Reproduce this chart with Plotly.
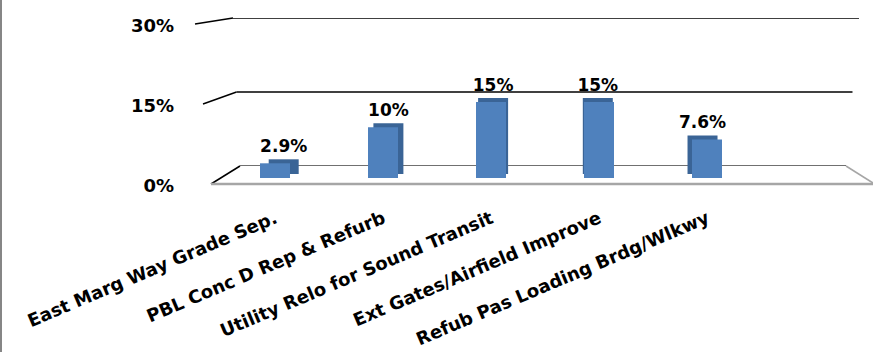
import plotly.graph_objects as go

# ---------------- data ----------------
categories = [
    "East Marg Way Grade Sep.",
    "PBL Conc D Rep & Refurb",
    "Utility Relo for Sound Transit",
    "Ext Gates/Airfield Improve",
    "Refub Pas Loading Brdg/Wlkwy",
]
values = [2.9, 10, 15, 15, 7.6]
data_labels = ["2.9%", "10%", "15%", "15%", "7.6%"]
tick_values = [0, 15, 30]
tick_labels = ["0%", "15%", "30%"]

# ---------------- geometry / style (pixels of the 873x352 page) ----------------
W, H = 873, 352
AX_MAX = 30


def px(x):
    return x / W


def py(y):
    return 1 - y / H


FONT = "DejaVu Sans"
FRONT_COLOR = "#4F81BD"
SIDE_COLOR = "#3A6496"

SLOT_L, SLOT_R, N_SLOTS = 221, 869, 6          # category slots (last one empty)
BAR_Y0, BAR_YTOP = 178, 25.9                    # bar scale 0..30
FRONT_Y0, FRONT_YTOP = 184, 24                  # front edge scale 0..30
LABEL_Y0, LABEL_YTOP = 186, 26                  # value-axis label scale 0..30
BACK_Y0, BACK_YTOP = 166, 18                    # back wall scale 0..30

slot = (SLOT_R - SLOT_L) / N_SLOTS
bar_w = 30 / slot
depth_val = 4 * AX_MAX / (BAR_Y0 - BAR_YTOP)
centers = [SLOT_L + slot * (i + 0.5) for i in range(len(values))]
side_offsets = [-bar_w / 2 + (560 - c) * 0.0305 / slot for c in centers]


def front_y(v):
    return FRONT_Y0 - v * (FRONT_Y0 - FRONT_YTOP) / AX_MAX


def back_y(v):
    return BACK_Y0 - v * (BACK_Y0 - BACK_YTOP) / AX_MAX


def front_x(v):
    return 211 - 0.533 * v


def back_left(v):
    return 240 - 0.233 * v


def back_right(v):
    return 846 + 0.433 * v


fig = go.Figure()

# depth (side + top faces) of the 3-D columns
fig.add_trace(go.Bar(
    x=categories, y=values, base=depth_val, width=bar_w, offset=side_offsets,
    marker=dict(color=SIDE_COLOR, line=dict(width=0)),
    text=data_labels, textposition="outside", constraintext="none",
    textfont=dict(family=FONT, size=17, color="#000000", weight="bold"),
    cliponaxis=False, hoverinfo="skip", showlegend=False,
))
# front faces
fig.add_trace(go.Bar(
    x=categories, y=values, width=bar_w, offset=-bar_w / 2,
    marker=dict(color=FRONT_COLOR, line=dict(width=0)),
    hoverinfo="skip", showlegend=False,
))
# helper traces so the wall and front-scale axes exist
fig.add_trace(go.Scatter(x=tick_values, y=tick_values, xaxis="x2", yaxis="y2",
                         mode="none", hoverinfo="skip", showlegend=False))
fig.add_trace(go.Scatter(x=tick_values, y=tick_values, xaxis="x3", yaxis="y3",
                         mode="none", hoverinfo="skip", showlegend=False))

shapes = []
for v in tick_values:
    col = "#000000" if v else "#404040"
    shapes.append(dict(type="line", xref="paper", yref="y2",
                       x0=px(back_left(v)), x1=px(back_right(v)), y0=v, y1=v,
                       line=dict(color=col, width=1.5), layer="below"))
    shapes.append(dict(type="line", xref="paper", yref="paper",
                       x0=px(front_x(v)), y0=py(front_y(v)),
                       x1=px(back_left(v)), y1=py(back_y(v)),
                       line=dict(color="#000000", width=1.5), layer="below"))
# floor front edge and right edge
shapes.append(dict(type="line", xref="paper", yref="paper",
                   x0=px(front_x(0)), x1=1, y0=py(front_y(0)), y1=py(front_y(0)),
                   line=dict(color="#A6A6A6", width=2.5), layer="below"))
shapes.append(dict(type="line", xref="paper", yref="paper",
                   x0=px(back_right(0)), y0=py(back_y(0)), x1=1, y1=py(front_y(0) - 1),
                   line=dict(color="#A6A6A6", width=1.5), layer="below"))
# chart border (left)
shapes.append(dict(type="line", xref="paper", yref="paper",
                   x0=px(1), x1=px(1), y0=0, y1=1,
                   line=dict(color="#868686", width=2), layer="above"))

fig.update_layout(
    width=W, height=H,
    margin=dict(l=0, r=0, t=0, b=0, pad=0, autoexpand=False),
    paper_bgcolor="#FFFFFF", plot_bgcolor="rgba(0,0,0,0)",
    barmode="overlay",
    showlegend=False,
    shapes=shapes,
    xaxis=dict(domain=[px(SLOT_L), px(SLOT_R)], range=[-0.5, N_SLOTS - 0.5],
               type="category", anchor="y", showgrid=False, zeroline=False,
               showline=False, ticks="", tickangle=-23, ticklabelstandoff=26,
               automargin=False,
               tickfont=dict(family=FONT, size=18, color="#000000", weight="bold"),
               fixedrange=True),
    yaxis=dict(domain=[py(BAR_Y0), py(BAR_YTOP)], range=[0, AX_MAX], visible=False,
               anchor="x", fixedrange=True, automargin=False),
    xaxis2=dict(domain=[0, 1], range=[0, 1], visible=False, anchor="y2", automargin=False),
    yaxis2=dict(domain=[py(BACK_Y0), py(BACK_YTOP)], range=[0, AX_MAX],
                visible=False, anchor="x2", automargin=False),
    xaxis3=dict(domain=[px(175), px(176)], range=[0, 1], visible=False, anchor="y3",
                automargin=False),
    yaxis3=dict(domain=[py(LABEL_Y0), py(LABEL_YTOP)], range=[0, AX_MAX],
                anchor="x3", tickvals=tick_values, ticktext=tick_labels,
                showgrid=False, zeroline=False, showline=False, ticks="",
                automargin=False,
                tickfont=dict(family=FONT, size=18, color="#000000", weight="bold")),
)

fig.write_html("out.html")
